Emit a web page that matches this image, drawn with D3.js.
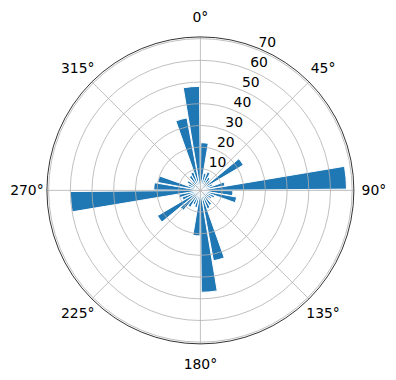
<!DOCTYPE html>
<html>
<head>
<meta charset="utf-8">
<script src="https://cdn.jsdelivr.net/npm/d3@7"></script>
<style>
  body { margin: 0; background: #fff; }
  svg { display: block; font-family: "DejaVu Sans", sans-serif; }
</style>
</head>
<body>
<div id="chart"></div>
<script>
// bar centres in degrees (0 = north, clockwise) and their radial values
const angles = [5, 15, 25, 35, 45, 55, 65, 75, 85, 95, 105, 115, 125, 135, 145, 155, 165, 175,
  185, 195, 205, 215, 225, 235, 245, 255, 265, 275, 285, 295, 305, 315, 325, 335, 345, 355];
const values = [22, 8, 9, 7, 6, 23, 6, 11.5, 67.4, 15, 17, 7, 6, 5, 8, 9, 33, 47,
  21, 8, 7, 9, 12, 23, 9, 10, 60, 21.5, 20, 6, 7, 5, 8, 9, 34, 48];
const barWidthDeg = 9;
const radialTicks = [10, 20, 30, 40, 50, 60, 70];
const angleTicks = [0, 45, 90, 135, 180, 225, 270, 315];

const width = 396, height = 380;
const cx = 200.4, cy = 190.4;
const outerR = 153.5;
const rMax = 70.8;

const rad = d => d * Math.PI / 180;
const r = d3.scaleLinear().domain([0, rMax]).range([0, outerR]);

const svg = d3.select("#chart")
  .append("svg")
  .attr("width", width)
  .attr("height", height);

const g = svg.append("g").attr("transform", `translate(${cx},${cy})`);

// === Bars ===
const arc = d3.arc()
  .innerRadius(0)
  .outerRadius(d => r(d.value))
  .startAngle(d => rad(d.angle - barWidthDeg / 2))
  .endAngle(d => rad(d.angle + barWidthDeg / 2));

const bars = angles.map((a, i) => ({ angle: a, value: values[i] }));

g.selectAll("path.bar")
  .data(bars)
  .enter()
  .append("path")
  .attr("class", "bar")
  .attr("d", arc)
  .attr("fill", "#1f77b4")
  .attr("stroke", "#fff")
  .attr("stroke-width", 1);

// === Grid (drawn over bars, like matplotlib) ===
g.selectAll("circle.grid")
  .data(radialTicks)
  .enter()
  .append("circle")
  .attr("class", "grid")
  .attr("r", d => r(d))
  .attr("fill", "none")
  .attr("stroke", "#b0b0b0")
  .attr("stroke-width", 0.8);

g.selectAll("line.spoke")
  .data(angleTicks)
  .enter()
  .append("line")
  .attr("class", "spoke")
  .attr("x1", 0)
  .attr("y1", 0)
  .attr("x2", d => outerR * Math.sin(rad(d)))
  .attr("y2", d => -outerR * Math.cos(rad(d)))
  .attr("stroke", "#b0b0b0")
  .attr("stroke-width", 0.8);

// outer spine
g.append("circle")
  .attr("r", outerR)
  .attr("fill", "none")
  .attr("stroke", "#000")
  .attr("stroke-width", 0.8);

// === Angle labels ===
const labelR = outerR + 20;
g.selectAll("text.theta")
  .data(angleTicks)
  .enter()
  .append("text")
  .attr("class", "theta")
  .attr("x", d => labelR * Math.sin(rad(d)))
  .attr("y", d => -labelR * Math.cos(rad(d)))
  .attr("text-anchor", "middle")
  .attr("dominant-baseline", "central")
  .style("font-size", "13.9px")
  .text(d => `${d}°`);

// === Radial labels (at 22.5°) ===
const rLabelAngle = rad(22.5);
g.selectAll("text.rlabel")
  .data(radialTicks)
  .enter()
  .append("text")
  .attr("class", "rlabel")
  .attr("x", d => r(d) * Math.sin(rLabelAngle))
  .attr("y", d => -r(d) * Math.cos(rLabelAngle) - 3)
  .attr("text-anchor", "start")
  .style("font-size", "13.9px")
  .text(d => d);
</script>
</body>
</html>
